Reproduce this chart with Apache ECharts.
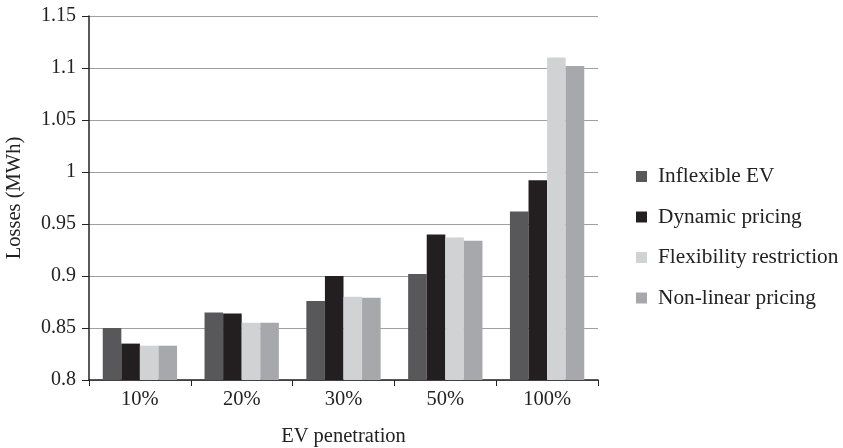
<!DOCTYPE html>
<html><head><meta charset="utf-8">
<script src="https://cdn.jsdelivr.net/npm/echarts@6/dist/echarts.min.js"></script>
<style>html,body{margin:0;padding:0;background:#fff}#c{width:843px;height:448px}</style>
</head><body><div id="c"></div>
<script>
const categories = ['10%', '20%', '30%', '50%', '100%'];
const seriesNames = ['Inflexible EV', 'Dynamic pricing', 'Flexibility restriction', 'Non-linear pricing'];
const inflexibleEV = [0.850, 0.865, 0.876, 0.902, 0.962];
const dynamicPricing = [0.835, 0.864, 0.900, 0.940, 0.992];
const flexibilityRestriction = [0.833, 0.855, 0.880, 0.937, 1.110];
const nonLinearPricing = [0.833, 0.855, 0.879, 0.934, 1.102];
const colors = ['#58585a', '#231f20', '#d1d2d4', '#a7a8ab'];
const allData = [inflexibleEV, dynamicPricing, flexibilityRestriction, nonLinearPricing];
const font = '"Liberation Serif", "DejaVu Serif", serif';

const chart = echarts.init(document.getElementById('c'));
chart.setOption({
  animation: false,
  textStyle: { fontFamily: font },
  grid: { left: 89, right: 245, top: 16, bottom: 68, containLabel: false, outerBoundsMode: 'none' },
  legend: {
    orient: 'vertical', left: 636, top: 166, padding: 0,
    itemWidth: 11, itemHeight: 11, itemGap: 19.5,
    icon: 'rect',
    textStyle: { fontFamily: font, fontSize: 21.3, color: '#222', padding: [0, 0, 0, 6] },
    data: seriesNames
  },
  xAxis: {
    type: 'category', data: categories,
    name: 'EV penetration', nameLocation: 'middle', nameGap: 46,
    nameTextStyle: { fontFamily: font, fontSize: 20.5, color: '#222' },
    axisLine: { lineStyle: { color: '#222', width: 1.5 } },
    axisTick: { show: true, length: 6, lineStyle: { color: '#222' } },
    axisLabel: { fontFamily: font, fontSize: 20.5, color: '#222', margin: 9 }
  },
  yAxis: {
    type: 'value', min: 0.8, max: 1.15, interval: 0.05,
    name: 'Losses (MWh)', nameLocation: 'middle', nameGap: 64,
    nameTextStyle: { fontFamily: font, fontSize: 20.5, color: '#222' },
    axisLine: { show: true, lineStyle: { color: '#222', width: 1.5 } },
    axisTick: { show: true, length: 7, lineStyle: { color: '#222' } },
    axisLabel: { fontFamily: font, fontSize: 20, color: '#222', margin: 13,
      formatter: v => String(parseFloat(v.toFixed(2))) },
    splitLine: { lineStyle: { color: '#a0a0a0', width: 1 } }
  },
  series: seriesNames.map((n, i) => ({
    name: n, type: 'bar', data: allData[i],
    barGap: '0%', barCategoryGap: '27%',
    itemStyle: { color: colors[i] }
  }))
});
</script></body></html>
